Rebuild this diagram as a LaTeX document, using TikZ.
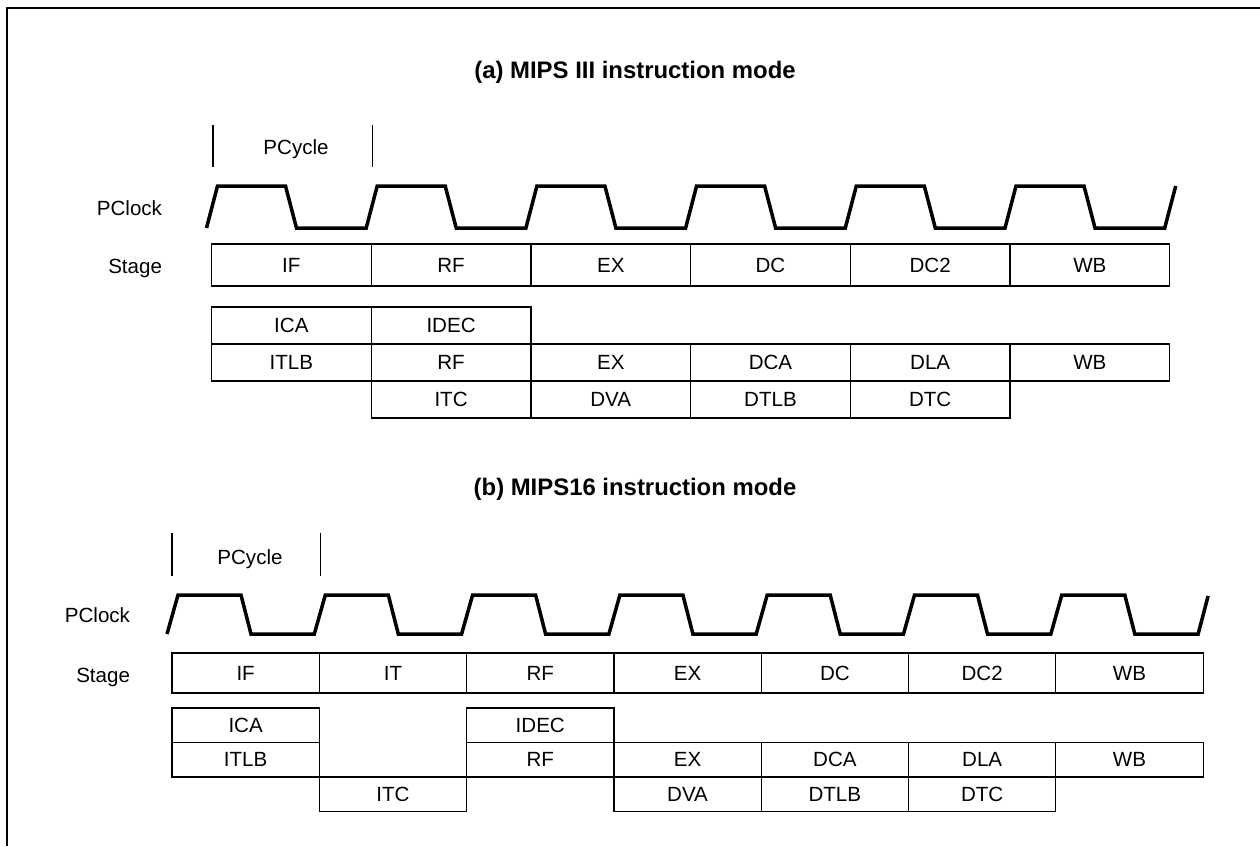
\documentclass[tikz,border=0pt]{standalone}
\usepackage{fontspec}
\setmainfont{Liberation Sans}

\begin{document}
\begin{tikzpicture}[x=0.02cm,y=-0.02cm,
    lbl/.style={font=\fontsize{11.7}{14}\selectfont,inner sep=0pt,outer sep=0pt},
    ttl/.style={font=\fontsize{13.6}{16}\selectfont\bfseries,inner sep=0pt},
    cell/.style 2 args={draw,lbl,line width=0.7pt,minimum width=#1*0.02cm,minimum height=#2*0.02cm},
    clk/.style={line width=2pt,line join=miter},
    tick/.style={line width=0.7pt}]
        \useasboundingbox (0,0) rectangle (1260,846);
        \draw[line width=1.5pt] (7,846) -- (7,8) -- (1260,8);

        % (a) MIPS III
        \pgfmathsetmacro{\xa}{211.5}
        \pgfmathsetmacro{\pa}{159.7}
        \node[ttl,anchor=base] (titleA) at (635,78) {(a) MIPS III instruction mode};
        \draw[tick] ({\xa+1.5},125) -- ({\xa+1.5},167);
        \draw[tick] ({\xa+\pa+1},125) -- ({\xa+\pa+1},167);
        \node[lbl,anchor=base] (cycA) at (296,154) {PCycle};
        \node[lbl,anchor=base east] (clkA) at (162,215) {PClock};
        \node[lbl,anchor=base east] (stgA) at (162,273) {Stage};
        \draw[clk] ({\xa-5},228) \foreach \k in {0,...,5} {
            -- ({\xa+\k*\pa+6},186) -- ({\xa+\k*\pa+74},186)
            -- ({\xa+\k*\pa+85},228) -- ({\xa+(\k+1)*\pa-5},228) }
            -- ({\xa+6*\pa+6},186);
        \foreach \t [count=\i from 0] in {IF,RF,EX,DC,DC2,WB}
            \node[cell={\pa}{42}] (aS-\i) at ({\xa+(\i+0.5)*\pa},265) {\t};
        \foreach \c/\t in {0/ICA,1/IDEC}
            \node[cell={\pa}{37}] (a1-\c) at ({\xa+(\c+0.5)*\pa},325.5) {\t};
        \foreach \c/\t in {0/ITLB,1/RF,2/EX,3/DCA,4/DLA,5/WB}
            \node[cell={\pa}{37}] (a2-\c) at ({\xa+(\c+0.5)*\pa},362.5) {\t};
        \foreach \c/\t in {1/ITC,2/DVA,3/DTLB,4/DTC}
            \node[cell={\pa}{37}] (a3-\c) at ({\xa+(\c+0.5)*\pa},399.5) {\t};

        % (b) MIPS16
        \pgfmathsetmacro{\xb}{172}
        \pgfmathsetmacro{\pb}{147.3}
        \node[ttl,anchor=base] (titleB) at (635,495) {(b) MIPS16 instruction mode};
        \draw[tick] (\xb,533) -- (\xb,576);
        \draw[tick] ({\xb+\pb+1},533) -- ({\xb+\pb+1},576);
        \node[lbl,anchor=base] (cycB) at (250,564) {PCycle};
        \node[lbl,anchor=base east] (clkB) at (130,622) {PClock};
        \node[lbl,anchor=base east] (stgB) at (130,682) {Stage};
        \draw[clk] ({\xb-5},634) \foreach \k in {0,...,6} {
            -- ({\xb+\k*\pb+6},595) -- ({\xb+\k*\pb+69},595)
            -- ({\xb+\k*\pb+79},634) -- ({\xb+(\k+1)*\pb-5},634) }
            -- ({\xb+7*\pb+5},596);
        \foreach \t [count=\i from 0] in {IF,IT,RF,EX,DC,DC2,WB}
            \node[cell={\pb}{40}] (bS-\i) at ({\xb+(\i+0.5)*\pb},673) {\t};
        \foreach \c/\t in {0/ICA,2/IDEC}
            \node[cell={\pb}{34.5}] (b1-\c) at ({\xb+(\c+0.5)*\pb},725.25) {\t};
        \foreach \c/\t in {0/ITLB,2/RF,3/EX,4/DCA,5/DLA,6/WB}
            \node[cell={\pb}{34.5}] (b2-\c) at ({\xb+(\c+0.5)*\pb},759.75) {\t};
        \foreach \c/\t in {1/ITC,3/DVA,4/DTLB,5/DTC}
            \node[cell={\pb}{34.5}] (b3-\c) at ({\xb+(\c+0.5)*\pb},794.25) {\t};
\end{tikzpicture}
\end{document}
